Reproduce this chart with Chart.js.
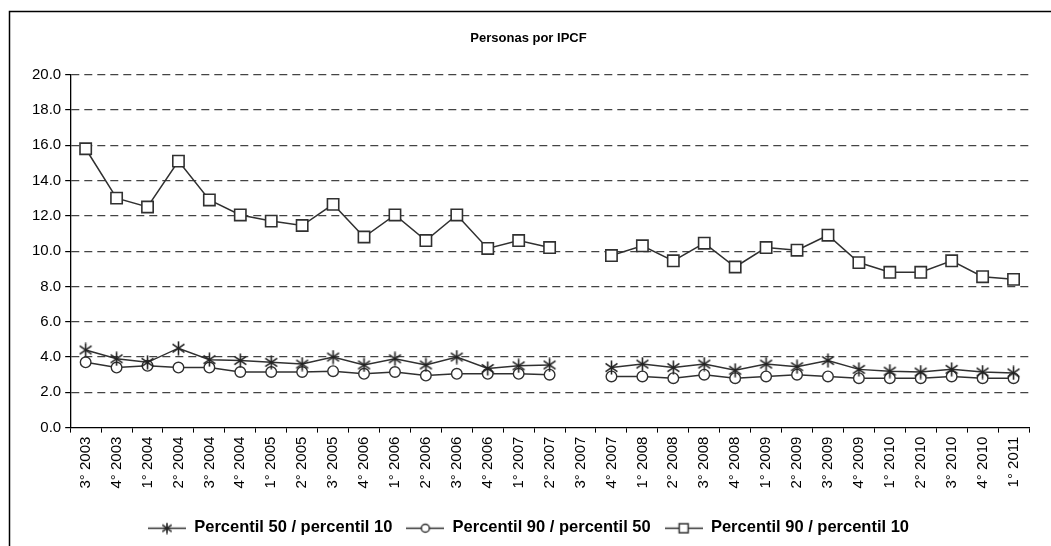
<!DOCTYPE html>
<html>
<head>
<meta charset="utf-8">
<script src="https://cdn.jsdelivr.net/npm/chart.js@4"></script>
<style>
  html, body { margin: 0; padding: 0; background: #fff; }
  #wrap { width: 1051px; height: 546px; position: relative; }
</style>
</head>
<body>
<div id="wrap"><canvas id="ipcfChart"></canvas></div>
<script>
// Datos del gráfico
const categories = ['3° 2003', '4° 2003', '1° 2004', '2° 2004', '3° 2004', '4° 2004', '1° 2005', '2° 2005', '3° 2005', '4° 2006',
    '1° 2006', '2° 2006', '3° 2006', '4° 2006', '1° 2007', '2° 2007', '3° 2007', '4° 2007', '1° 2008', '2° 2008',
    '3° 2008', '4° 2008', '1° 2009', '2° 2009', '3° 2009', '4° 2009', '1° 2010', '2° 2010', '3° 2010', '4° 2010', '1° 2011'];

const p50p10 = [4.4, 3.9, 3.7, 4.5, 3.85, 3.8, 3.7, 3.6, 4.0, 3.55, 3.9, 3.55, 4.0, 3.35, 3.5, 3.55, null,
    3.4, 3.6, 3.4, 3.6, 3.25, 3.6, 3.45, 3.8, 3.3, 3.2, 3.15, 3.3, 3.15, 3.1];
const p90p50 = [3.7, 3.4, 3.5, 3.4, 3.4, 3.15, 3.15, 3.15, 3.2, 3.05, 3.15, 2.95, 3.05, 3.05, 3.05, 3.0, null,
    2.9, 2.9, 2.8, 3.0, 2.8, 2.9, 3.0, 2.9, 2.8, 2.8, 2.8, 2.9, 2.8, 2.8];
const p90p10 = [15.8, 13.0, 12.5, 15.1, 12.9, 12.05, 11.7, 11.45, 12.65, 10.8, 12.05, 10.6, 12.05, 10.15, 10.6, 10.2, null,
    9.75, 10.3, 9.45, 10.45, 9.1, 10.2, 10.05, 10.9, 9.35, 8.8, 8.8, 9.45, 8.55, 8.4];

const seriesNames = ['Percentil 50 / percentil 10', 'Percentil 90 / percentil 50', 'Percentil 90 / percentil 10'];

const yMin = 0;
const yMax = 20;
const yStep = 2;

const LINE = '#303030';
const FONT = "'Liberation Sans', Arial, sans-serif";

// Asterisco para la serie 50/10
function makeStar(size) {
    const c = document.createElement('canvas');
    c.width = size; c.height = size;
    const g = c.getContext('2d');
    const m = size / 2, r = size / 2 - 0.5;
    g.strokeStyle = '#222';
    g.lineWidth = 1.6;
    g.beginPath();
    g.moveTo(m, m - r); g.lineTo(m, m + r);
    g.moveTo(m - r * 0.85, m - r * 0.6); g.lineTo(m + r * 0.85, m + r * 0.6);
    g.moveTo(m + r * 0.85, m - r * 0.6); g.lineTo(m - r * 0.85, m + r * 0.6);
    g.stroke();
    return c;
}

// Muestra de la leyenda: línea con el marcador al medio
function makeLegendMark(kind) {
    const c = document.createElement('canvas');
    c.width = 38; c.height = 16;
    const g = c.getContext('2d');
    g.strokeStyle = LINE;
    g.lineWidth = 1.5;
    g.beginPath();
    g.moveTo(0, 8.5); g.lineTo(38, 8.5);
    g.stroke();
    g.fillStyle = '#fff';
    if (kind === 'star') {
        g.drawImage(makeStar(12), 13, 2.5);
    } else if (kind === 'circle') {
        g.beginPath();
        g.arc(19, 8.5, 4, 0, Math.PI * 2);
        g.fill(); g.stroke();
    } else {
        g.fillRect(14.5, 4, 9, 9);
        g.strokeRect(14.5, 4, 9, 9);
    }
    return c;
}

const starImg = makeStar(15);
const legendMarks = [makeLegendMark('star'), makeLegendMark('circle'), makeLegendMark('rect')];

// Marco exterior del gráfico
const framePlugin = {
    id: 'frame',
    afterDraw(chart) {
        const ctx = chart.ctx;
        ctx.save();
        ctx.strokeStyle = '#000';
        ctx.lineWidth = 1.5;
        ctx.beginPath();
        ctx.moveTo(9.5, 600);
        ctx.lineTo(9.5, 11.5);
        ctx.lineTo(1100, 11.5);
        ctx.stroke();
        ctx.restore();
    }
};

Chart.defaults.font.family = FONT;
Chart.defaults.color = '#000';

new Chart(document.getElementById('ipcfChart'), {
    type: 'line',
    data: {
        labels: categories,
        datasets: [{
            label: seriesNames[0],
            data: p50p10,
            borderColor: LINE,
            borderWidth: 1.5,
            pointStyle: starImg,
            pointRadius: 7,
            spanGaps: false
        }, {
            label: seriesNames[1],
            data: p90p50,
            borderColor: LINE,
            borderWidth: 1.5,
            pointStyle: 'circle',
            pointRadius: 5.3,
            pointBackgroundColor: '#fff',
            pointBorderColor: LINE,
            pointBorderWidth: 1.4,
            spanGaps: false
        }, {
            label: seriesNames[2],
            data: p90p10,
            borderColor: LINE,
            borderWidth: 1.5,
            pointStyle: 'rect',
            pointRadius: 8,
            pointBackgroundColor: '#fff',
            pointBorderColor: LINE,
            pointBorderWidth: 1.6,
            spanGaps: false
        }]
    },
    options: {
        responsive: true,
        maintainAspectRatio: false,
        animation: false,
        layout: {
            padding: { left: 28, right: 22, top: 0, bottom: 0 }
        },
        plugins: {
            title: {
                display: true,
                text: 'Personas por IPCF',
                font: { size: 13, weight: 'bold' },
                color: '#000',
                padding: { top: 31, bottom: 28 }
            },
            legend: {
                position: 'bottom',
                labels: {
                    usePointStyle: true,
                    pointStyleWidth: 38,
                    padding: 14,
                    font: { size: 16.5, weight: 'bold' },
                    color: '#000',
                    generateLabels: function(chart) {
                        return chart.data.datasets.map(function(ds, i) {
                            return {
                                text: ds.label,
                                pointStyle: legendMarks[i],
                                fillStyle: '#fff',
                                strokeStyle: LINE,
                                lineWidth: 0,
                                hidden: false,
                                datasetIndex: i
                            };
                        });
                    }
                }
            },
            tooltip: { enabled: false }
        },
        scales: {
            x: {
                offset: true,
                afterFit: function(scale) { scale.height += 13; },
                grid: {
                    display: true,
                    offset: true,
                    drawOnChartArea: false,
                    drawTicks: true,
                    tickLength: 5,
                    color: '#000'
                },
                border: { color: '#000', width: 1.3 },
                ticks: {
                    autoSkip: false,
                    maxRotation: 90,
                    minRotation: 90,
                    font: { size: 15 },
                    color: '#000',
                    padding: 4
                }
            },
            y: {
                min: yMin,
                max: yMax,
                grid: {
                    color: function(ctx) {
                        return ctx.tick && ctx.tick.value === yMin ? 'rgba(0,0,0,0)' : '#444';
                    },
                    lineWidth: 1.2,
                    tickLength: 5,
                    tickColor: '#000',
                    tickBorderDash: [0, 0]
                },
                border: { color: '#000', width: 1.3, dash: [8, 5] },
                ticks: {
                    stepSize: yStep,
                    font: { size: 15 },
                    color: '#000',
                    padding: 4,
                    callback: function(v) { return v.toFixed(1); }
                }
            }
        }
    },
    plugins: [framePlugin]
});
</script>
</body>
</html>
